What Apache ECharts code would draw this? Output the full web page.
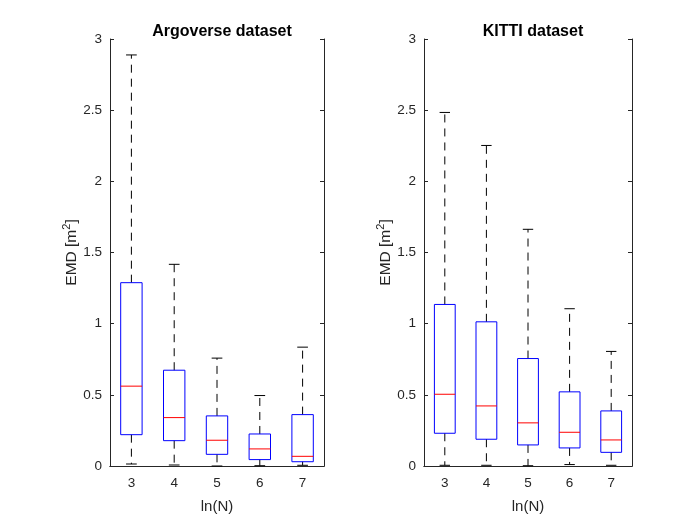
<!DOCTYPE html>
<html>
<head>
<meta charset="utf-8">
<script src="https://cdn.jsdelivr.net/npm/echarts@6/dist/echarts.min.js"></script>
<style>
  html, body { margin: 0; padding: 0; background: #fff; }
  #chart { width: 700px; height: 525px; }
</style>
</head>
<body>
<div id="chart"></div>
<script>
var categories = ['3', '4', '5', '6', '7'];
var yTicks = [0, 0.5, 1, 1.5, 2, 2.5, 3];

// Argoverse: lower whisker, Q1, median, Q3, upper whisker
var argoLow  = [0.014, 0.007, 0.0, 0.002, 0.005];
var argoQ1   = [0.22, 0.178, 0.082, 0.045, 0.03];
var argoMed  = [0.561, 0.34, 0.181, 0.12, 0.068];
var argoQ3   = [1.288, 0.673, 0.352, 0.225, 0.361];
var argoHigh = [2.888, 1.417, 0.758, 0.495, 0.835];

// KITTI
var kittiLow  = [0.005, 0.005, 0.002, 0.01, 0.005];
var kittiQ1   = [0.23, 0.188, 0.148, 0.127, 0.096];
var kittiMed  = [0.504, 0.422, 0.303, 0.237, 0.183];
var kittiQ3   = [1.135, 1.013, 0.755, 0.521, 0.387];
var kittiHigh = [2.484, 2.252, 1.663, 1.105, 0.805];

function rows(lo, q1, md, q3, hi) {
    return categories.map(function (c, i) {
        return [i, lo[i], q1[i], md[i], q3[i], hi[i]];
    });
}

var axisColor = '#262626';
var font = 'Liberation Sans, Arial, sans-serif';

function renderBox(params, api) {
    var x = api.value(0);
    var lo = api.coord([x, api.value(1)]);
    var q1 = api.coord([x, api.value(2)]);
    var md = api.coord([x, api.value(3)]);
    var q3 = api.coord([x, api.value(4)]);
    var hi = api.coord([x, api.value(5)]);
    var band = api.size([1, 0])[0];
    var bw = band * 0.5, cw = band * 0.25;
    var cx = md[0];
    var dash = { stroke: '#000', lineWidth: 1, lineDash: [8, 6] };
    var solid = { stroke: '#000', lineWidth: 1 };
    return {
        type: 'group',
        children: [
            { type: 'line', shape: { x1: cx, y1: q3[1], x2: cx, y2: hi[1] }, style: dash },
            { type: 'line', shape: { x1: cx, y1: q1[1], x2: cx, y2: lo[1] }, style: dash },
            { type: 'line', shape: { x1: cx - cw / 2, y1: hi[1], x2: cx + cw / 2, y2: hi[1] }, style: solid },
            { type: 'line', shape: { x1: cx - cw / 2, y1: lo[1], x2: cx + cw / 2, y2: lo[1] }, style: solid },
            { type: 'rect', shape: { x: cx - bw / 2, y: q3[1], width: bw, height: q1[1] - q3[1] },
              style: { fill: 'none', stroke: '#0000ff', lineWidth: 1 } },
            { type: 'line', shape: { x1: cx - bw / 2, y1: md[1], x2: cx + bw / 2, y2: md[1] },
              style: { stroke: '#ff0000', lineWidth: 1 } }
        ]
    };
}

var grids = [
    { left: 110, top: 39, width: 214, height: 427 },
    { left: 424, top: 39, width: 208, height: 427 }
];
var titles = ['Argoverse dataset', 'KITTI dataset'];

var xAxes = [], yAxes = [], series = [], titleList = [];
[0, 1].forEach(function (g) {
    xAxes.push({
        type: 'category', gridIndex: g, position: 'bottom', data: categories,
        name: 'ln(N)', nameLocation: 'middle', nameGap: 33,
        nameTextStyle: { color: axisColor, fontSize: 15, fontFamily: font },
        axisLine: { lineStyle: { color: axisColor } },
        axisTick: { inside: true, alignWithLabel: true, length: 4, lineStyle: { color: axisColor } },
        axisLabel: { color: axisColor, fontSize: 13.5, fontFamily: font, margin: 10 },
        splitLine: { show: false }
    });
    xAxes.push({
        type: 'category', gridIndex: g, position: 'top', data: categories,
        axisLine: { lineStyle: { color: axisColor } },
        axisTick: { inside: true, alignWithLabel: true, length: 4, lineStyle: { color: axisColor } },
        axisLabel: { show: false }, splitLine: { show: false }
    });
    yAxes.push({
        type: 'value', gridIndex: g, position: 'left', min: 0, max: 3, interval: 0.5,
        name: '{m|EMD [m}{s|2}{m|]}', nameLocation: 'middle', nameGap: 27, nameRotate: 90,
        nameTextStyle: {
            rich: {
                m: { color: axisColor, fontSize: 15.5, fontFamily: font },
                s: { color: axisColor, fontSize: 11, fontFamily: font, verticalAlign: 'top', padding: [0, 0, 9, 0] }
            }
        },
        axisLine: { show: true, lineStyle: { color: axisColor } },
        axisTick: { show: true, inside: true, length: 4, lineStyle: { color: axisColor } },
        axisLabel: { color: axisColor, fontSize: 13.5, fontFamily: font, margin: 8 },
        splitLine: { show: false }
    });
    yAxes.push({
        type: 'value', gridIndex: g, position: 'right', min: 0, max: 3, interval: 0.5,
        axisLine: { show: true, lineStyle: { color: axisColor } },
        axisTick: { show: true, inside: true, length: 4, lineStyle: { color: axisColor } },
        axisLabel: { show: false }, splitLine: { show: false }
    });
    titleList.push({
        text: titles[g],
        left: grids[g].left + grids[g].width / 2, top: 19, textAlign: 'center',
        textStyle: { color: '#000', fontSize: 16, fontWeight: 'bold', fontFamily: font }
    });
});

series.push({
    type: 'custom', xAxisIndex: 0, yAxisIndex: 0,
    data: rows(argoLow, argoQ1, argoMed, argoQ3, argoHigh),
    encode: { x: 0, y: [1, 2, 3, 4, 5] },
    renderItem: renderBox, silent: true
});
series.push({
    type: 'custom', xAxisIndex: 2, yAxisIndex: 2,
    data: rows(kittiLow, kittiQ1, kittiMed, kittiQ3, kittiHigh),
    encode: { x: 0, y: [1, 2, 3, 4, 5] },
    renderItem: renderBox, silent: true
});

var myChart = echarts.init(document.getElementById('chart'));
myChart.setOption({
    backgroundColor: '#fff',
    animation: false,
    title: titleList,
    grid: grids,
    xAxis: xAxes,
    yAxis: yAxes,
    series: series
});
</script>
</body>
</html>
